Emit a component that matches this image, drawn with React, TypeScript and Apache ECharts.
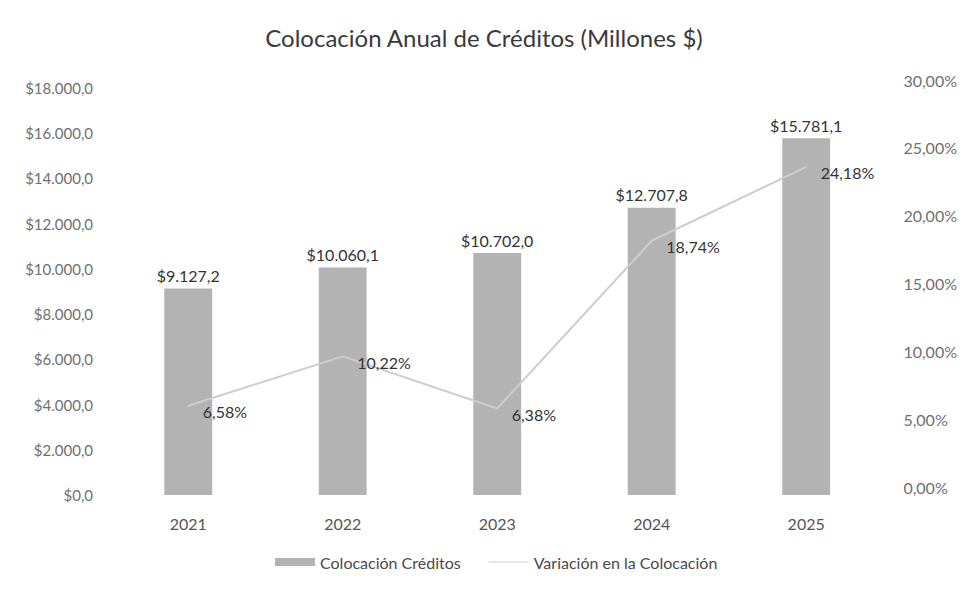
import React, { useEffect, useRef } from "react";
import * as echarts from "echarts";

const categories = ["2021", "2022", "2023", "2024", "2025"];
const colocacion = [9127.2, 10060.1, 10702.0, 12707.8, 15781.1];
const variacion = [6.58, 10.22, 6.38, 18.74, 24.18];
const titleText = "Colocación Anual de Créditos (Millones $)";
const barName = "Colocación Créditos";
const lineName = "Variación en la Colocación";

const FONT = "Lato";

const fmtMoney = (v: number) => {
  const fixed = v.toFixed(1);
  const [intPart, dec] = fixed.split(".");
  const withDots = intPart.replace(/\B(?=(\d{3})+(?!\d))/g, ".");
  return "$" + withDots + "," + dec;
};
const fmtPct = (v: number) => v.toFixed(2).replace(".", ",") + "%";

export default function App() {
  const ref = useRef<HTMLDivElement>(null);
  useEffect(() => {
    if (!ref.current) return;
    const chart = echarts.init(ref.current, null, { renderer: "svg" });
    chart.setOption({
      animation: false,
      backgroundColor: "#ffffff",
      textStyle: { fontFamily: FONT },
      title: {
        text: titleText,
        left: "center",
        top: 12,
        textStyle: { fontFamily: FONT, fontSize: 24, fontWeight: "normal", color: "#3a3a3a" },
      },
      legend: {
        bottom: 10,
        left: 262,
        itemWidth: 40,
        itemHeight: 8,
        itemGap: 28,
        textStyle: { fontFamily: FONT, fontSize: 16, color: "#4a4a4a" },
        data: [
          { name: barName, icon: "rect" },
          { name: lineName, icon: "path://M0,0 L40,0 L40,1 L0,1 Z" },
        ],
      },
      grid: { left: 103, right: 67, top: 80, bottom: 90 },
      xAxis: {
        type: "category",
        data: categories,
        axisLine: { show: false },
        axisTick: { show: false },
        axisLabel: { fontFamily: FONT, fontSize: 16, color: "#555", margin: 20 },
      },
      yAxis: [
        {
          type: "value",
          min: 0,
          max: 18000,
          interval: 2000,
          splitLine: { show: false },
          axisLine: { show: false },
          axisTick: { show: false },
          axisLabel: {
            fontFamily: FONT,
            fontSize: 15,
            color: "#707070",
            margin: 18,
            formatter: (v: number) => fmtMoney(v),
          },
        },
        {
          type: "value",
          min: 0,
          max: 30,
          interval: 5,
          splitLine: { show: false },
          axisLine: { show: false },
          axisTick: { show: false },
          axisLabel: {
            fontFamily: FONT,
            fontSize: 16,
            color: "#707070",
            margin: 20,
            verticalAlign: "bottom",
            formatter: (v: number) => fmtPct(v),
          },
        },
      ],
      series: [
        {
          name: barName,
          type: "bar",
          data: colocacion,
          barWidth: "31%",
          itemStyle: { color: "#b3b3b3" },
          label: {
            show: true,
            position: "top",
            distance: 5,
            fontFamily: FONT,
            fontSize: 16,
            color: "#333",
            formatter: (p: any) => fmtMoney(p.value),
          },
        },
        {
          name: lineName,
          type: "line",
          yAxisIndex: 1,
          data: variacion,
          symbol: "circle",
          symbolSize: 1,
          lineStyle: { color: "#cdcdcd", width: 2 },
          itemStyle: { color: "#cdcdcd" },
          label: {
            show: true,
            position: "right",
            distance: 14,
            offset: [0, 6],
            fontFamily: FONT,
            fontSize: 16,
            color: "#333",
            formatter: (p: any) => fmtPct(p.value),
          },
        },
      ],
    });
    return () => chart.dispose();
  }, []);
  return <div ref={ref} style={{ width: 952, height: 577 }} />;
}
